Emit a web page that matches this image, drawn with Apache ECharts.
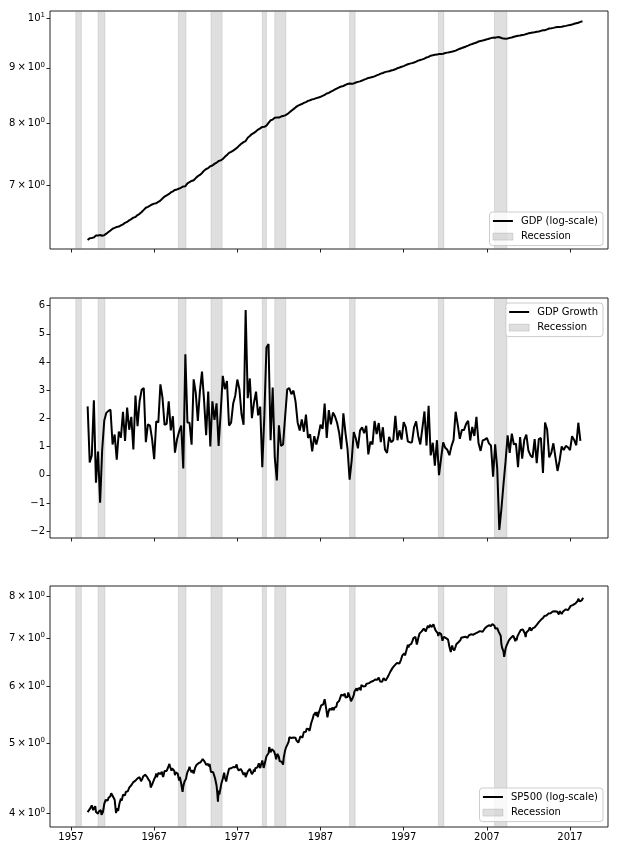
<!DOCTYPE html>
<html>
<head>
<meta charset="utf-8">
<script src="https://cdn.jsdelivr.net/npm/echarts@6/dist/echarts.min.js"></script>
<style>
html,body{margin:0;padding:0;background:#fff;}
#chart{width:618px;height:850px;}
</style>
</head>
<body>
<div id="chart"></div>
<script>
// 季度数据从1959Q1开始, 月度数据从1959年1月开始
var gdpStart = 1959;
var spStart = 1959;
// log(GDP), 季度
var gdpLog = [
6.235,6.259,6.263,6.270, 6.296,6.294,6.302,6.292, 6.301,6.320,6.342,6.364, 6.387,6.398,6.412,6.417,
6.432,6.446,6.468,6.480, 6.503,6.519,6.540,6.549, 6.576,6.593,6.619,6.649, 6.679,6.691,6.708,6.726,
6.738,6.744,6.763,6.781, 6.813,6.840,6.857,6.875, 6.901,6.917,6.937,6.945, 6.958,6.973,6.990,6.993,
7.035,7.053,7.071,7.082, 7.115,7.144,7.163,7.192, 7.228,7.254,7.268,7.297, 7.307,7.333,7.352,7.378,
7.388,7.410,7.444,7.474, 7.507,7.524,7.543,7.568, 7.595,7.628,7.658,7.680, 7.698,7.754,7.781,7.815,
7.835,7.860,7.889,7.910, 7.934,7.936,7.957,8.002, 8.047,8.059,8.090,8.096, 8.094,8.111,8.122,8.132,
8.153,8.183,8.213,8.241, 8.271,8.297,8.315,8.331, 8.350,8.365,8.386,8.399, 8.414,8.422,8.436,8.446,
8.460,8.478,8.494,8.519, 8.532,8.555,8.572,8.594, 8.615,8.633,8.648,8.657, 8.678,8.693,8.702,8.700,
8.705,8.721,8.733,8.743, 8.758,8.775,8.790,8.807, 8.814,8.826,8.837,8.856, 8.870,8.888,8.900,8.917,
8.926,8.934,8.947,8.958, 8.971,8.991,9.004,9.019, 9.032,9.050,9.067,9.079, 9.090,9.102,9.118,9.137,
9.151,9.162,9.178,9.200, 9.211,9.235,9.242,9.253, 9.256,9.269,9.268,9.274, 9.286,9.295,9.304,9.311,
9.321,9.334,9.356,9.373, 9.386,9.402,9.418,9.436, 9.455,9.467,9.484,9.497, 9.518,9.529,9.538,9.550,
9.562,9.575,9.586,9.597, 9.596,9.607,9.609,9.589, 9.577,9.574,9.578,9.592, 9.600,9.614,9.625,9.636,
9.639,9.652,9.658,9.670, 9.685,9.693,9.700,9.706, 9.719,9.723,9.736,9.749, 9.750,9.768,9.784,9.790,
9.798,9.809,9.815,9.816, 9.822,9.832,9.840,9.851, 9.860,9.869,9.883,9.895, 9.906,9.924,9.936
];
// GDP增长率(%), 季度
var gdpGrowth = [
2.43,0.44,0.69,2.65, -0.28,0.83,-0.99,0.89, 1.93,2.20,2.27,2.31, 1.08,1.43,0.54,1.54,
1.32,2.24,1.20,2.39, 1.60,2.06,0.90,2.81, 1.73,2.62,3.02,3.08, 1.16,1.79,1.75,1.27,
0.56,1.90,1.86,3.21, 2.74,1.77,1.81,2.61, 1.58,2.08,0.79,1.26, 1.54,1.75,0.23,4.28,
1.86,1.85,1.07,3.39, 2.91,1.91,2.97,3.66, 2.64,1.41,2.96,1.01, 2.61,1.95,2.54,1.03,
2.22,3.51,3.04,3.33, 1.75,1.85,2.53,2.81, 3.38,3.04,2.16,1.78, 5.85,2.72,3.42,2.01,
2.56,2.95,2.11,2.42, 0.27,2.11,4.52,4.64, 1.23,3.10,0.62,-0.20, 1.76,1.03,1.08,2.08,
3.03,3.08,2.86,2.99, 2.60,1.86,1.57,1.97, 1.53,2.14,1.31,1.44, 0.83,1.37,1.08,1.39,
1.78,1.63,2.53,1.31, 2.30,1.79,2.21,2.07, 1.84,1.48,0.91,2.18, 1.49,0.92,-0.17,0.51,
1.52,1.29,0.94,1.57, 1.69,1.48,1.74,0.73, 1.18,1.08,1.91,1.45, 1.84,1.16,1.69,0.90,
0.78,1.35,1.16,1.23, 2.09,1.23,1.58,1.25, 1.87,1.69,1.19,1.15, 1.16,1.69,1.90,1.38,
1.08,1.66,2.25,1.04, 2.45,0.69,1.14,0.33, 1.23,-0.01,0.59,1.15, 0.96,0.89,0.70,1.02,
1.24,2.24,1.78,1.28, 1.59,1.59,1.80,1.92, 1.22,1.70,1.38,2.06, 1.13,0.85,1.22,1.25,
1.31,1.12,1.04,-0.06, 1.08,0.22,-1.95,-1.21, -0.34,0.47,1.40,0.78, 1.46,1.08,1.11,0.27,
1.34,0.58,1.24,1.43, 0.86,0.69,0.62,1.27, 0.42,1.27,1.31,0.07, 1.86,1.61,0.62,0.78,
1.12,0.62,0.14,0.51, 1.01,0.88,1.03,0.98, 0.88,1.37,1.24,1.05, 1.85,1.21
];
// log(SP500), 月度
var sp500Log = [
4.015,4.015,4.015,4.054,4.072,4.069,4.103,4.088,4.041,4.052,4.066,4.093,
4.018,4.027,4.013,3.996,4.022,4.041,4.016,4.042,3.980,3.978,4.016,4.062,
4.124,4.149,4.176,4.179,4.199,4.168,4.202,4.221,4.200,4.228,4.267,4.271,
4.231,4.248,4.243,4.177,4.088,4.004,4.064,4.079,4.031,4.034,4.132,4.145,
4.193,4.164,4.199,4.246,4.260,4.240,4.236,4.284,4.272,4.304,4.293,4.317,
4.344,4.354,4.369,4.376,4.387,4.403,4.421,4.404,4.433,4.441,4.436,4.440,
4.473,4.470,4.457,4.490,4.482,4.432,4.446,4.468,4.499,4.526,4.517,4.526,
4.531,4.513,4.491,4.512,4.455,4.439,4.426,4.345,4.339,4.385,4.388,4.386,
4.461,4.464,4.502,4.543,4.490,4.506,4.552,4.539,4.572,4.536,4.543,4.570,
4.524,4.493,4.502,4.581,4.592,4.601,4.582,4.594,4.632,4.639,4.686,4.643,
4.635,4.586,4.620,4.642,4.640,4.582,4.520,4.559,4.534,4.577,4.541,4.523,
4.443,4.494,4.495,4.401,4.339,4.286,4.358,4.401,4.434,4.422,4.468,4.524,
4.563,4.572,4.608,4.644,4.601,4.602,4.560,4.595,4.588,4.545,4.543,4.626,
4.643,4.669,4.675,4.679,4.696,4.674,4.677,4.710,4.706,4.715,4.760,4.771,
4.754,4.716,4.714,4.673,4.654,4.647,4.684,4.647,4.686,4.685,4.564,4.580,
4.571,4.566,4.543,4.503,4.469,4.454,4.373,4.279,4.151,4.303,4.248,4.228,
4.344,4.402,4.424,4.469,4.512,4.556,4.486,4.465,4.429,4.489,4.513,4.502,
4.614,4.602,4.633,4.621,4.607,4.647,4.639,4.634,4.656,4.634,4.626,4.677,
4.625,4.603,4.589,4.589,4.565,4.610,4.594,4.573,4.570,4.525,4.552,4.555,
4.491,4.466,4.491,4.573,4.578,4.559,4.612,4.638,4.630,4.534,4.551,4.565,
4.604,4.568,4.621,4.623,4.596,4.634,4.642,4.694,4.694,4.623,4.665,4.681,
4.738,4.734,4.626,4.666,4.711,4.738,4.802,4.807,4.832,4.848,4.945,4.911,
4.864,4.877,4.913,4.889,4.887,4.877,4.874,4.811,4.755,4.803,4.839,4.809,
4.791,4.728,4.718,4.757,4.718,4.697,4.674,4.783,4.791,4.896,4.931,4.946,
4.979,4.998,5.030,5.102,5.090,5.125,5.091,5.102,5.113,5.097,5.114,5.105,
5.096,5.057,5.070,5.076,5.014,5.032,5.015,5.116,5.113,5.113,5.097,5.119,
5.191,5.200,5.197,5.192,5.245,5.257,5.252,5.240,5.205,5.246,5.309,5.353,
5.356,5.424,5.476,5.462,5.511,5.525,5.464,5.533,5.444,5.497,5.518,5.490,
5.613,5.650,5.676,5.664,5.670,5.717,5.764,5.798,5.774,5.529,5.439,5.510,
5.550,5.590,5.556,5.566,5.569,5.611,5.606,5.566,5.605,5.631,5.612,5.627,
5.695,5.666,5.687,5.735,5.770,5.762,5.847,5.862,5.855,5.830,5.846,5.868,
5.796,5.805,5.829,5.802,5.889,5.881,5.875,5.776,5.724,5.717,5.775,5.800,
5.840,5.906,5.928,5.928,5.966,5.917,5.960,5.980,5.961,5.973,5.928,6.033,
6.013,6.023,6.001,6.028,6.029,6.011,6.050,6.026,6.035,6.037,6.067,6.077,
6.084,6.094,6.113,6.087,6.110,6.110,6.105,6.139,6.129,6.148,6.135,6.145,
6.177,6.147,6.100,6.111,6.124,6.096,6.127,6.164,6.137,6.158,6.117,6.130,
6.154,6.189,6.216,6.244,6.279,6.300,6.332,6.331,6.371,6.366,6.406,6.423,
6.455,6.462,6.470,6.483,6.506,6.508,6.461,6.480,6.533,6.559,6.629,6.608,
6.667,6.673,6.629,6.686,6.743,6.786,6.861,6.802,6.854,6.818,6.862,6.878,
6.888,6.956,7.005,7.014,6.995,7.033,7.022,6.864,6.925,7.002,7.059,7.114,
7.154,7.121,7.160,7.197,7.171,7.225,7.192,7.186,7.157,7.217,7.236,7.292,
7.240,7.220,7.312,7.281,7.259,7.282,7.266,7.325,7.270,7.265,7.182,7.186,
7.220,7.123,7.056,7.131,7.136,7.110,7.099,7.033,6.948,6.966,7.038,7.046,
7.030,7.009,7.045,6.982,6.973,6.898,6.815,6.820,6.704,6.786,6.842,6.780,
6.752,6.735,6.743,6.821,6.871,6.882,6.898,6.916,6.904,6.957,6.964,7.014,
7.031,7.043,7.027,7.010,7.022,7.039,7.005,7.007,7.016,7.030,7.068,7.100,
7.074,7.093,7.074,7.053,7.083,7.083,7.118,7.107,7.114,7.096,7.131,7.130,
7.155,7.155,7.166,7.178,7.147,7.147,7.152,7.173,7.197,7.228,7.245,7.257,
7.271,7.249,7.259,7.301,7.333,7.315,7.283,7.296,7.331,7.346,7.300,7.292,
7.229,7.193,7.187,7.234,7.244,7.155,7.145,7.157,7.062,6.876,6.798,6.806,
6.716,6.600,6.682,6.772,6.823,6.824,6.895,6.928,6.963,6.943,6.999,7.017,
6.979,7.007,7.064,7.079,6.993,6.938,7.004,6.956,7.040,7.076,7.074,7.137,
7.159,7.191,7.190,7.218,7.204,7.186,7.164,7.106,7.031,7.134,7.128,7.137,
7.179,7.219,7.250,7.243,7.178,7.217,7.229,7.249,7.273,7.253,7.256,7.263,
7.312,7.323,7.358,7.376,7.397,7.382,7.430,7.398,7.427,7.471,7.499,7.522,
7.486,7.528,7.535,7.541,7.562,7.581,7.566,7.603,7.587,7.610,7.634,7.630,
7.598,7.652,7.634,7.643,7.653,7.632,7.651,7.587,7.560,7.640,7.640,7.623,
7.570,7.566,7.630,7.633,7.648,7.649,7.684,7.683,7.682,7.662,7.696,7.714,
7.731,7.768,7.768,7.777,7.788,7.793,7.812,7.813,7.832,7.854,7.882,7.891,
7.946,7.906,7.879,7.882,7.903,7.908,7.943,7.973
];
// 衰退区间(年)
var recessions = [
[1957.58,1958.25],[1960.25,1961.08],[1969.92,1970.83],[1973.83,1975.17],[1980.0,1980.5],
[1981.5,1982.83],[1990.5,1991.17],[2001.17,2001.83],[2007.92,2009.42]
];
var yearTicks = [1957,1967,1977,1987,1997,2007,2017];
var gdpTicks = [7,8,9,10];
var growthTicks = [-2,-1,0,1,2,3,4,5,6];
var spTicks = [4,5,6,7,8];

var FONT = 'DejaVu Sans';
var BAND = 'rgba(128,128,128,0.25)';

function toSeries(arr, start, step) {
    return arr.map(function (v, i) { return [start + i / step, v]; });
}
var bandData = recessions.map(function (r) { return [{xAxis: r[0]}, {xAxis: r[1]}]; });

//科学计数标签
function sciLabel(v) {
    if (v === 10) {
        return '{m|10}{s|1}';
    }
    return '{m|' + v + '\u2009\u00d7\u200910}{s|0}';
}
var sciRich = {
    m: {fontSize: 10, color: '#000', fontFamily: FONT, lineHeight: 13},
    s: {fontSize: 7, color: '#000', fontFamily: FONT, verticalAlign: 'top', lineHeight: 8}
};

var grids = [
    {left: 50, top: 11, width: 558, height: 238},
    {left: 50, top: 298, width: 558, height: 240},
    {left: 50, top: 586, width: 558, height: 241}
].map(function (g) {
    g.show = true;
    g.borderColor = '#222';
    g.borderWidth = 1;
    g.backgroundColor = 'transparent';
    return g;
});

var xAxes = [0, 1, 2].map(function (i) {
    return {
        gridIndex: i,
        type: 'value',
        min: 1954.475,
        max: 2021.569,
        splitLine: {show: false},
        axisLine: {show: false, onZero: false},
        axisTick: {show: true, length: 3.5, customValues: yearTicks, lineStyle: {color: '#222'}},
        axisLabel: {
            show: i === 2, customValues: yearTicks, margin: 5,
            fontSize: 10, fontFamily: FONT, color: '#000',
            formatter: function (v) { return String(v); }
        }
    };
});

function logAxis(idx, min, max, ticks) {
    return {
        gridIndex: idx,
        type: 'log',
        logBase: 10,
        min: min,
        max: max,
        splitLine: {show: false},
        minorTick: {show: false},
        axisLine: {show: false, onZero: false},
        axisTick: {show: true, length: 3.5, customValues: ticks, lineStyle: {color: '#222'}},
        axisLabel: {customValues: ticks, margin: 5, formatter: sciLabel, rich: sciRich}
    };
}

var yAxes = [
    logAxis(0, 6.117, 10.157, gdpTicks),
    {
        gridIndex: 1,
        type: 'value',
        min: -2.238,
        max: 6.273,
        splitLine: {show: false},
        axisLine: {show: false, onZero: false},
        axisTick: {show: true, length: 3.5, customValues: growthTicks, lineStyle: {color: '#222'}},
        axisLabel: {
            customValues: growthTicks, margin: 5, fontSize: 10, fontFamily: FONT, color: '#000',
            formatter: function (v) { return v < 0 ? '\u2212' + Math.abs(v) : String(v); }
        }
    },
    logAxis(2, 3.829, 8.279, spTicks)
];

function mainLine(name, idx, data) {
    return {
        name: name,
        type: 'line',
        xAxisIndex: idx,
        yAxisIndex: idx,
        data: data,
        symbol: 'none',
        silent: true,
        z: 3,
        lineStyle: {color: '#000', width: 2},
        itemStyle: {color: '#000'},
        markArea: {
            silent: true,
            z: 1,
            itemStyle: {color: BAND, borderColor: 'rgba(128,128,128,0.2)', borderWidth: 1},
            data: bandData
        }
    };
}
function dummy(idx) {
    return {name: 'Recession', type: 'line', xAxisIndex: idx, yAxisIndex: idx, data: [], symbol: 'none',
        lineStyle: {color: BAND}, itemStyle: {color: BAND}};
}

var lineIcon = 'path://M0,0h20v2h-20z';
var patchIcon = 'path://M0,0h20v7h-20z';
function legendBox(top, name) {
    return {
        orient: 'vertical',
        right: 15,
        top: top,
        selectedMode: false,
        backgroundColor: 'rgba(255,255,255,0.8)',
        borderColor: '#ccc',
        borderWidth: 1,
        borderRadius: 3,
        padding: [3, 5, 3, 3],
        itemWidth: 20,
        itemHeight: 8,
        itemGap: 3.6,
        textStyle: {fontSize: 10, fontFamily: FONT, color: '#000', lineHeight: 12, padding: [0, 0, 0, 3]},
        data: [
            {name: name, icon: lineIcon, itemStyle: {color: '#000', borderWidth: 0}},
            {name: 'Recession', icon: patchIcon, itemStyle: {color: BAND, borderColor: 'rgba(128,128,128,0.3)', borderWidth: 0.8}}
        ]
    };
}

var chart = echarts.init(document.getElementById('chart'), null, {renderer: 'canvas'});
chart.setOption({
    animation: false,
    backgroundColor: '#fff',
    textStyle: {fontFamily: FONT},
    grid: grids,
    xAxis: xAxes,
    yAxis: yAxes,
    legend: [
        legendBox(212, 'GDP (log-scale)'),
        legendBox(303, 'GDP Growth'),
        legendBox(788, 'SP500 (log-scale)')
    ],
    series: [
        mainLine('GDP (log-scale)', 0, toSeries(gdpLog, gdpStart, 4)),
        mainLine('GDP Growth', 1, toSeries(gdpGrowth, gdpStart, 4)),
        mainLine('SP500 (log-scale)', 2, toSeries(sp500Log, spStart, 12)),
        dummy(0), dummy(1), dummy(2)
    ]
});
</script>
</body>
</html>
